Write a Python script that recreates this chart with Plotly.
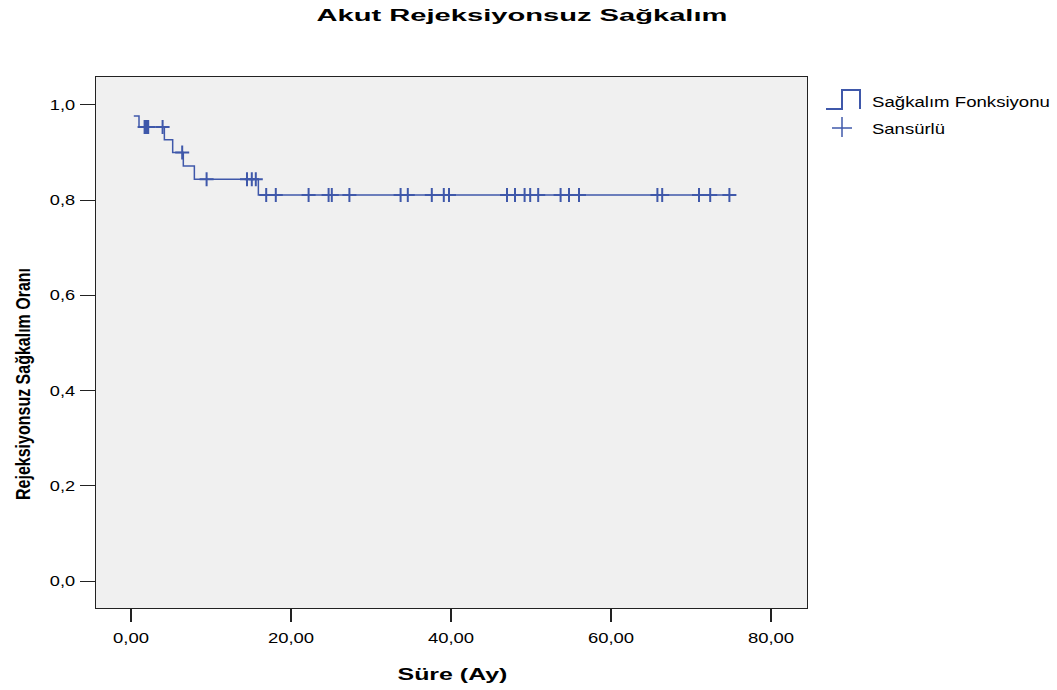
import numpy as np
import plotly.graph_objects as go

# ---- data ----
step_times = [0.35, 1.0, 4.17, 5.21, 6.54, 7.92, 15.92]
survival = [0.977, 0.954, 0.927, 0.900, 0.872, 0.844, 0.811]
end_time = 74.8
censor_times = [1.7, 1.85, 2.0, 2.15, 3.95, 6.4, 9.45, 14.5, 15.1, 15.6, 16.9, 18.1,
                22.2, 24.7, 25.1, 27.3, 33.7, 34.6, 37.6, 39.1, 39.75, 47.0, 48.0,
                49.2, 49.9, 50.9, 53.7, 54.75, 56.0, 65.8, 66.4, 71.0, 72.4, 74.8]
x_tick_vals = [0, 20, 40, 60, 80]
x_tick_text = ["0,00", "20,00", "40,00", "60,00", "80,00"]
y_tick_vals = [0.0, 0.2, 0.4, 0.6, 0.8, 1.0]
y_tick_text = ["0,0", "0,2", "0,4", "0,6", "0,8", "1,0"]

BLUE = "#3F58AA"
FONT = "Liberation Sans, Arial, sans-serif"

# step curve
sx = step_times + [end_time]
sy = survival + [survival[-1]]
# survival level at each censor time
idx = np.searchsorted(np.array(step_times), np.array(censor_times), side="right") - 1
cy = [survival[i] for i in idx]

fig = go.Figure()
fig.add_trace(go.Scatter(x=sx, y=sy, mode="lines", line=dict(color=BLUE, width=1.5, shape="hv"),
                         showlegend=False, hoverinfo="skip"))
fig.add_trace(go.Scatter(x=censor_times, y=cy, mode="markers",
                         marker=dict(symbol="cross-thin", size=10, line=dict(color=BLUE, width=2)),
                         showlegend=False, hoverinfo="skip"))

L, R, T, B = 96, 250, 77, 82
W, H = 1057, 690
PW, PH = W - L - R, H - T - B


def px(x):
    return (x - L) / PW


def py(y):
    return (H - B - y) / PH


# legend drawn manually
fig.add_shape(type="path", xref="paper", yref="paper",
              path=f"M {px(826)},{py(109)} L {px(842)},{py(109)} L {px(842)},{py(90)} L {px(860)},{py(90)} L {px(860)},{py(109)}",
              line=dict(color=BLUE, width=2))
fig.add_shape(type="line", xref="paper", yref="paper", x0=px(832), x1=px(852), y0=py(128), y1=py(128),
              line=dict(color=BLUE, width=1.5))
fig.add_shape(type="line", xref="paper", yref="paper", x0=px(842), x1=px(842), y0=py(117), y1=py(137),
              line=dict(color=BLUE, width=1.5))

annotations = [
    dict(text="<b>Akut Rejeksiyonsuz Sağkalım</b>", x=px(521.5), y=py(16), xanchor="center", yanchor="middle",
         font=dict(family=FONT, size=17, color="black")),
    dict(text="<b>Süre (Ay)</b>", x=px(452), y=py(674), xanchor="center", yanchor="middle",
         font=dict(family=FONT, size=17, color="black")),
    dict(text="<b>Rejeksiyonsuz Sağkalım Oranı</b>", x=px(22), y=py(384), xanchor="center", yanchor="middle",
         textangle=-90, font=dict(family=FONT, size=16, color="black")),
    dict(text="Sağkalım Fonksiyonu", x=px(870), y=py(102), xanchor="left", yanchor="middle",
         font=dict(family=FONT, size=14.5, color="black")),
    dict(text="Sansürlü", x=px(870), y=py(128.5), xanchor="left", yanchor="middle",
         font=dict(family=FONT, size=14.5, color="black")),
]
for a in annotations:
    a.update(xref="paper", yref="paper", showarrow=False)

fig.update_layout(
    width=W, height=H,
    margin=dict(l=L, r=R, t=T, b=B),
    paper_bgcolor="white", plot_bgcolor="#F0F0F0",
    annotations=annotations,
    showlegend=False,
    hovermode=False,
    font=dict(family=FONT, color="black"),
)
fig.update_xaxes(range=[-4.375, 84.5], tickvals=x_tick_vals, ticktext=x_tick_text,
                 ticks="outside", ticklen=13, tickwidth=2, tickcolor="#222",
                 showline=True, linecolor="#222", linewidth=1, mirror=True,
                 showgrid=False, zeroline=False, ticklabelstandoff=4,
                 tickfont=dict(family=FONT, size=14, color="black"))
fig.update_yaxes(range=[-0.0567, 1.0588], tickvals=y_tick_vals, ticktext=y_tick_text,
                 ticks="outside", ticklen=15, tickwidth=1, tickcolor="#222",
                 showline=True, linecolor="#222", linewidth=1, mirror=True,
                 showgrid=False, zeroline=False, ticklabelstandoff=2,
                 tickfont=dict(family=FONT, size=14, color="black"))

# the reference image is horizontally stretched; widen text the same way
post = """
var gd = document.getElementById('{plot_id}');
function stretchX(el, s, mode) {
  var bb = el.getBBox();
  var ax = mode === 'start' ? bb.x : (mode === 'end' ? bb.x + bb.width : bb.x + bb.width / 2);
  var t = el.getAttribute('transform') || '';
  el.setAttribute('transform', t + ' translate(' + ax + ',0) scale(' + s + ',1) translate(' + (-ax) + ',0)');
}
function stretchY(el, s) {
  var bb = el.getBBox();
  var ay = bb.y + bb.height / 2;
  var t = el.getAttribute('transform') || '';
  el.setAttribute('transform', t + ' translate(0,' + ay + ') scale(1,' + s + ') translate(0,' + (-ay) + ')');
}
try {
  var specs = [[411, 'middle'], [110, 'middle'], [null, null], [178, 'start'], [73, 'start']];
  gd.querySelectorAll('g.annotation').forEach(function (g) {
    var i = parseInt(g.getAttribute('data-index'));
    var el = g.querySelector('text.annotation-text');
    if (!el || !specs[i]) return;
    if (specs[i][0] === null) { stretchY(el, 1.3); return; }
    var w = el.getBBox().width;
    if (w > 0) stretchX(el, specs[i][0] / w, specs[i][1]);
  });
  gd.querySelectorAll('g.xtick text').forEach(function (el) { stretchX(el, 1.32, 'middle'); });
  gd.querySelectorAll('g.ytick text').forEach(function (el) { stretchX(el, 1.3, 'end'); });
} catch (e) {}
"""

fig.write_html("out.html", post_script=post)
